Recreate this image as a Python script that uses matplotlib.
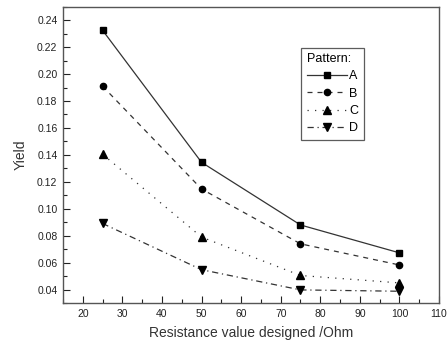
import matplotlib
matplotlib.use('Agg')
import matplotlib.pyplot as plt
from matplotlib.ticker import MultipleLocator, FormatStrFormatter

plt.rcParams['font.family'] = ['Liberation Sans', 'DejaVu Sans']

resistance = [25, 50, 75, 100]
yield_a = [0.2325, 0.1345, 0.0880, 0.0673]
yield_b = [0.1910, 0.1147, 0.0740, 0.0583]
yield_c = [0.1405, 0.0790, 0.0505, 0.0450]
yield_d = [0.0891, 0.0548, 0.0398, 0.0388]
patterns = ['A', 'B', 'C', 'D']

styles = [
    dict(linestyle='-', marker='s', markersize=4.5),
    dict(linestyle=(0, (4, 4)), marker='o', markersize=4.5),
    dict(linestyle=(0, (1, 5)), marker='^', markersize=5.5),
    dict(linestyle=(0, (5, 3, 1, 3)), marker='v', markersize=5.5),
]

fig = plt.figure(figsize=(4.48, 3.48), dpi=100)
ax = fig.add_axes([0.1406, 0.1290, 0.8394, 0.8517])

for name, ys, st in zip(patterns, [yield_a, yield_b, yield_c, yield_d], styles):
    ax.plot(resistance, ys, color='#333333', linewidth=0.9,
            markerfacecolor='black', markeredgecolor='black',
            label=name, **st)

ax.set_xlim(15, 110)
ax.set_ylim(0.03, 0.25)
ax.xaxis.set_major_locator(MultipleLocator(10))
ax.xaxis.set_minor_locator(MultipleLocator(5))
ax.yaxis.set_minor_locator(MultipleLocator(0.01))
ax.yaxis.set_major_formatter(FormatStrFormatter('%.2f'))
ax.set_yticks([0.04, 0.06, 0.08, 0.10, 0.12, 0.14, 0.16, 0.18, 0.20, 0.22, 0.24])

ax.tick_params(which='both', direction='in', top=False, right=False,
               labelsize=7.5, colors='#222222', width=0.8)
ax.tick_params(which='major', length=5, pad=4)
ax.tick_params(which='minor', length=3)
for sp in ax.spines.values():
    sp.set_color('#555555')
    sp.set_linewidth(1.0)

ax.set_xlabel('Resistance value designed /Ohm', fontsize=10, color='#333333', labelpad=5)
ax.set_ylabel('Yield', fontsize=10, color='#333333', labelpad=7)

leg = ax.legend(title='Pattern:', loc='upper left', bbox_to_anchor=(0.633, 0.862),
                fontsize=9, title_fontsize=9, frameon=True, fancybox=False,
                edgecolor='#333333', handlelength=3.2, handletextpad=0.2,
                borderpad=0.45, labelspacing=0.42, borderaxespad=0)
leg._legend_box.align = 'left'
leg.get_frame().set_linewidth(0.9)

fig.savefig('out.png', dpi=100)
